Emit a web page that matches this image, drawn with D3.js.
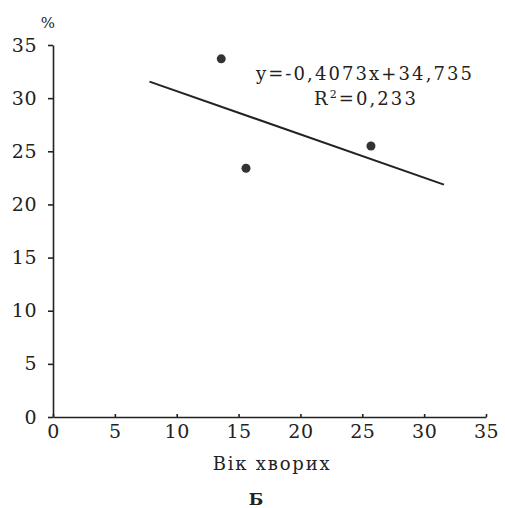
<!DOCTYPE html>
<html>
<head>
<meta charset="utf-8">
<script src="https://cdn.jsdelivr.net/npm/d3@7"></script>
<style>
  body { margin: 0; background: #fff; }
  .axis path, .axis line { stroke: #222; stroke-width: 1.6; }
</style>
</head>
<body>
<svg id="chart" width="505" height="508"></svg>
<script>
// patient age vs %
var ages = [13.6, 15.6, 25.7];
var percents = [33.7, 23.4, 25.5];
var xTicks = [0, 5, 10, 15, 20, 25, 30, 35];
var yTicks = [0, 5, 10, 15, 20, 25, 30, 35];
// trend line y = slope * x + intercept, drawn over the range below
var slope = -0.4073;
var intercept = 34.735;
var trendRange = [7.8, 31.6];
var equationText = 'y=-0,4073x+34,735';
var xTitle = 'Вік хворих';
var yTitle = '%';
var panelLabel = 'Б';

var SERIF = '"DejaVu Serif", "Liberation Serif", serif';
var svg = d3.select('#chart');

var x = d3.scaleLinear().domain([0, 35]).range([53, 486]);
var y = d3.scaleLinear().domain([0, 35]).range([417, 45]);

function styleTicks(g) {
    g.attr('font-family', SERIF);
    g.selectAll('text')
        .attr('font-size', 19)
        .attr('fill', '#222')
        .style('letter-spacing', '0.5px');
}

// axes
svg.append('g')
    .attr('class', 'axis')
    .attr('transform', 'translate(0,' + y(0) + ')')
    .call(d3.axisBottom(x).tickValues(xTicks).tickSize(-3).tickSizeOuter(0).tickPadding(8))
    .call(styleTicks);

svg.append('g')
    .attr('class', 'axis')
    .attr('transform', 'translate(' + x(0) + ',0)')
    .call(d3.axisLeft(y).tickValues(yTicks).tickSize(5).tickSizeOuter(0).tickPadding(11))
    .call(styleTicks);

// trend line
svg.append('line')
    .attr('x1', x(trendRange[0]))
    .attr('y1', y(slope * trendRange[0] + intercept))
    .attr('x2', x(trendRange[1]))
    .attr('y2', y(slope * trendRange[1] + intercept))
    .attr('stroke', '#222')
    .attr('stroke-width', 2);

// points
svg.selectAll('circle.pt')
    .data(ages)
    .enter().append('circle')
    .attr('class', 'pt')
    .attr('cx', function (d) { return x(d); })
    .attr('cy', function (d, i) { return y(percents[i]); })
    .attr('r', 4.5)
    .attr('fill', '#333');

var texts = svg.append('g')
    .attr('font-family', SERIF)
    .attr('fill', '#222');

// equation
texts.append('text')
    .attr('x', 365)
    .attr('y', 80)
    .attr('text-anchor', 'middle')
    .attr('font-size', 18)
    .style('letter-spacing', '2.1px')
    .text(equationText);

var r2 = texts.append('text')
    .attr('x', 366)
    .attr('y', 105)
    .attr('text-anchor', 'middle')
    .attr('font-size', 18)
    .style('letter-spacing', '2.1px');
r2.append('tspan').text('R');
r2.append('tspan').attr('font-size', 11).attr('dy', -7).text('2');
r2.append('tspan').attr('dy', 7).text('=0,233');

// titles
texts.append('text')
    .attr('x', 48)
    .attr('y', 28)
    .attr('text-anchor', 'middle')
    .attr('font-size', 15)
    .text(yTitle);

texts.append('text')
    .attr('x', 272)
    .attr('y', 470)
    .attr('text-anchor', 'middle')
    .attr('font-size', 18)
    .style('letter-spacing', '1.8px')
    .text(xTitle);

texts.append('text')
    .attr('x', 256)
    .attr('y', 505)
    .attr('text-anchor', 'middle')
    .attr('font-size', 17)
    .attr('font-weight', 'bold')
    .text(panelLabel);
</script>
</body>
</html>
